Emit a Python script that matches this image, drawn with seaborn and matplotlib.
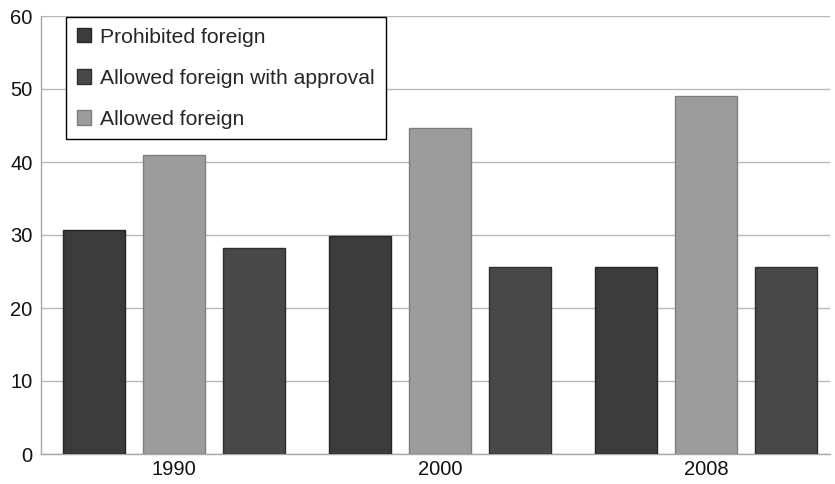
import matplotlib
matplotlib.use("Agg")
import matplotlib.pyplot as plt
from matplotlib.patches import Patch
import seaborn as sns
import pandas as pd

years = ["1990", "2000", "2008"]
prohibited = [30.7, 29.9, 25.6]
allowed = [41.0, 44.7, 49.0]
with_approval = [28.2, 25.6, 25.6]

series_bar_order = ["Prohibited foreign", "Allowed foreign", "Allowed foreign with approval"]
legend_order = ["Prohibited foreign", "Allowed foreign with approval", "Allowed foreign"]
colors = {
    "Prohibited foreign": "#3b3b3b",
    "Allowed foreign": "#9c9c9c",
    "Allowed foreign with approval": "#484848",
}
edges = {
    "Prohibited foreign": "#262626",
    "Allowed foreign": "#7e7e7e",
    "Allowed foreign with approval": "#2e2e2e",
}

df = pd.DataFrame({
    "year": years * 3,
    "series": ["Prohibited foreign"] * 3 + ["Allowed foreign"] * 3
              + ["Allowed foreign with approval"] * 3,
    "value": prohibited + allowed + with_approval,
})

sns.set_theme(style="white")
plt.rcParams["font.family"] = ["Liberation Sans", "DejaVu Sans"]

fig = plt.figure(figsize=(8.35, 4.84), dpi=100)
ax = fig.add_axes([41 / 835, 30 / 484, 789 / 835, 438 / 484])

sns.barplot(data=df, x="year", y="value", hue="series", hue_order=series_bar_order,
            order=years, palette=colors, width=0.9, gap=0.22, ax=ax,
            legend=False, saturation=1, zorder=3)

for bars, name in zip(ax.containers, series_bar_order):
    for b in bars:
        b.set_edgecolor(edges[name])
        b.set_linewidth(1.0)

ax.set_ylim(0, 60)
ax.set_xlim(-0.5, 2.466)
ax.set_yticks(range(0, 61, 10))
ax.yaxis.grid(True, color="#b8b8b8", linewidth=1.0, zorder=0)
ax.set_axisbelow(True)
ax.set_xlabel("")
ax.set_ylabel("")
for side in ["top", "right"]:
    ax.spines[side].set_visible(False)
for side in ["left", "bottom"]:
    ax.spines[side].set_color("#a8a8a8")
    ax.spines[side].set_linewidth(1.0)
ax.tick_params(axis="y", labelsize=14.5, colors="#111111", length=0, pad=6)
ax.tick_params(axis="x", labelsize=14.5, colors="#111111", length=0, pad=4)

handles = [Patch(facecolor=colors[n], edgecolor=edges[n], label=n) for n in legend_order]
leg = ax.legend(handles=handles, loc="upper left",
                bbox_to_anchor=(66 / 835, 1 - 17 / 484), bbox_transform=fig.transFigure,
                fontsize=15.2, frameon=True, fancybox=False, framealpha=1,
                handlelength=0.68, handleheight=0.68, handletextpad=0.45,
                labelspacing=1.05, borderpad=0.5, borderaxespad=0)
leg.get_frame().set_edgecolor("#000000")
leg.get_frame().set_linewidth(1.0)
leg.set_zorder(5)

fig.savefig("out.png", dpi=100, facecolor="white")
